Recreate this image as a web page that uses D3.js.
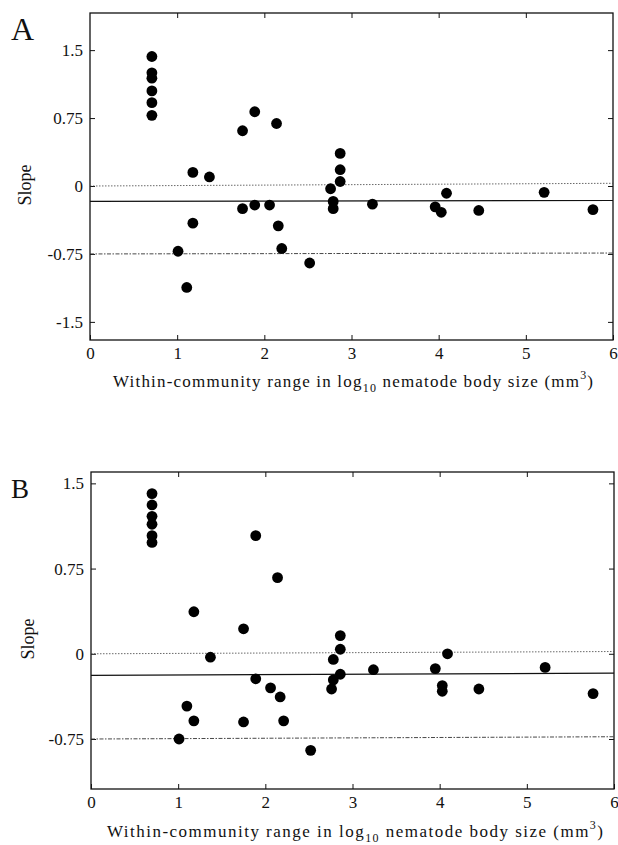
<!DOCTYPE html>
<html>
<head>
<meta charset="utf-8">
<script src="https://cdn.jsdelivr.net/npm/d3@7"></script>
<style>
  body { margin: 0; background: #fff; }
  svg text { font-family: "Liberation Serif", "Times New Roman", serif; fill: #111; }
</style>
</head>
<body>
<svg id="svg" width="618" height="845"></svg>
<script>
// panel A points (x = range in log10 body size, y = slope)
var aX = [0.71,0.71,0.71,0.71,0.71,0.71, 1.89,2.14,1.75,1.18,1.37,1.75,1.89,2.06,1.18,2.16,2.20,1.01,2.52,1.11,
          2.87,2.87,2.87,2.76,2.79,2.79,3.24,3.96,4.03,4.09,4.46,5.21,5.77];
var aY = [1.43,1.25,1.19,1.05,0.92,0.78, 0.82,0.69,0.61,0.15,0.10,-0.25,-0.21,-0.21,-0.41,-0.44,-0.69,-0.72,-0.85,-1.12,
          0.36,0.18,0.05,-0.03,-0.17,-0.25,-0.20,-0.23,-0.29,-0.08,-0.27,-0.07,-0.26];
// panel B points
var bX = [0.70,0.70,0.70,0.70,0.70,0.70, 1.89,2.14,1.18,1.75,1.37,1.89,2.06,2.17,1.10,1.18,1.75,2.21,1.01,2.52,
          2.86,2.86,2.78,2.86,2.78,2.76,3.24,3.95,4.03,4.03,4.09,4.45,5.21,5.76];
var bY = [1.41,1.31,1.21,1.14,1.04,0.98, 1.04,0.67,0.37,0.22,-0.03,-0.22,-0.30,-0.38,-0.46,-0.59,-0.60,-0.59,-0.75,-0.85,
          0.16,0.04,-0.05,-0.18,-0.23,-0.31,-0.14,-0.13,-0.28,-0.33,0.00,-0.31,-0.12,-0.35];

var xTicks = [0, 1, 2, 3, 4, 5, 6];
var yTicks = [1.5, 0.75, 0, -0.75, -1.5];
var yTickLabels = {"1.5": "1.5", "0.75": "0.75", "0": "0", "-0.75": "-0.75", "-1.5": "-1.5"};

// reference lines: mean slope (solid), upper and lower dotted, [left end, right end]
var aMean = [-0.17, -0.16], aUpper = [0.0, 0.03], aLower = [-0.75, -0.74];
var bMean = [-0.19, -0.17], bUpper = [0.0, 0.02], bLower = [-0.75, -0.73];

var svg = d3.select("#svg");

var panels = [
  {letter: "A", letterSize: 32, letterY: 40, xs: aX, ys: aY, mean: aMean, upper: aUpper, lower: aLower,
   box: {l: 90, r: 613, t: 13, b: 340}, yDom: [-1.70, 1.91],
   ylabX: 31, ylabY: 185, titleY: 387, titleL: 113, titleR: 593},
  {letter: "B", letterSize: 27, letterY: 498, xs: bX, ys: bY, mean: bMean, upper: bUpper, lower: bLower,
   box: {l: 91, r: 614, t: 472, b: 789}, yDom: [-1.19, 1.60],
   ylabX: 34, ylabY: 639, titleY: 837, titleL: 107, titleR: 603}
];

panels.forEach(drawPanel);

function drawPanel(p){
  var bx = p.box;
  var x = d3.scaleLinear().domain([0, 6]).range([bx.l, bx.r]);
  var y = d3.scaleLinear().domain(p.yDom).range([bx.b, bx.t]);
  var ticksIn = yTicks.filter(function(v){ return v >= p.yDom[0] && v <= p.yDom[1]; });
  var g = svg.append("g");

  // frame
  g.append("rect").attr("x", bx.l).attr("y", bx.t)
    .attr("width", bx.r - bx.l).attr("height", bx.b - bx.t)
    .attr("fill", "none").attr("stroke", "#111").attr("stroke-width", 1.3);

  // axes with inward ticks
  var inner = 5;
  g.append("g").attr("transform", "translate(0," + bx.b + ")")
    .call(d3.axisBottom(x).tickValues(xTicks).tickSize(-inner).tickPadding(7).tickFormat(d3.format("d")))
    .call(styleAxis);
  g.append("g").attr("transform", "translate(0," + bx.t + ")")
    .call(d3.axisTop(x).tickValues(xTicks.slice(1, 6)).tickSize(-inner).tickFormat(""))
    .call(styleAxis);
  g.append("g").attr("transform", "translate(" + bx.l + ",0)")
    .call(d3.axisLeft(y).tickValues(ticksIn).tickSize(-inner).tickPadding(7)
      .tickFormat(function(d){ return yTickLabels[String(d)]; }))
    .call(styleAxis);
  g.append("g").attr("transform", "translate(" + bx.r + ",0)")
    .call(d3.axisRight(y).tickValues(ticksIn).tickSize(-inner).tickFormat(""))
    .call(styleAxis);

  // reference lines
  var refs = [
    {v: p.upper, dash: "1.5,1.5", w: 0.8, c: "#444"},
    {v: p.lower, dash: "4,1.5,1.5,1.5", w: 0.9, c: "#333"},
    {v: p.mean, dash: null, w: 1.2, c: "#111"}
  ];
  refs.forEach(function(r){
    g.append("line")
      .attr("x1", bx.l).attr("x2", bx.r)
      .attr("y1", y(r.v[0])).attr("y2", y(r.v[1]))
      .attr("stroke", r.c).attr("stroke-width", r.w)
      .attr("stroke-dasharray", r.dash);
  });

  // points
  var pts = p.xs.map(function(v, i){ return [v, p.ys[i]]; });
  g.selectAll("circle.pt").data(pts).enter().append("circle")
    .attr("class", "pt")
    .attr("cx", function(d){ return x(d[0]); })
    .attr("cy", function(d){ return y(d[1]); })
    .attr("r", 5.4)
    .attr("fill", "#000");

  // panel letter
  g.append("text").attr("x", 11).attr("y", p.letterY)
    .attr("font-size", p.letterSize).text(p.letter);

  // y label
  g.append("text")
    .attr("transform", "translate(" + p.ylabX + "," + p.ylabY + ") rotate(-90)")
    .attr("text-anchor", "middle").attr("font-size", 18).text("Slope");

  // x title with subscript and superscript, stretched to span
  var t = g.append("text").attr("x", p.titleL).attr("y", p.titleY).attr("font-size", 17);
  t.append("tspan").text("Within-community range in log");
  t.append("tspan").attr("font-size", 12).attr("dy", 5).text("10");
  t.append("tspan").attr("dy", -5).text(" nematode body size (mm");
  t.append("tspan").attr("font-size", 12).attr("dy", -8).text("3");
  t.append("tspan").attr("dy", 8).text(")");
  var full = "Within-community range in log10 nematode body size (mm3)";
  var w = t.node().getComputedTextLength();
  var extra = (p.titleR - p.titleL - w) / (full.length - 1);
  t.style("letter-spacing", extra + "px");
}

function styleAxis(sel){
  sel.attr("font-family", null);
  sel.select(".domain").remove();
  sel.selectAll(".tick line").attr("stroke", "#111").attr("stroke-width", 1);
  sel.selectAll(".tick text").attr("font-size", 17).attr("fill", "#111");
}
</script>
</body>
</html>
